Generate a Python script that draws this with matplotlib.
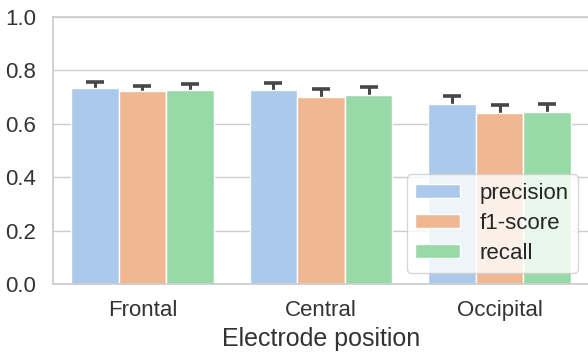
import numpy as np
import matplotlib
matplotlib.use("Agg")
import matplotlib.pyplot as plt
import seaborn as sns

# 数据
positions = ["Frontal", "Central", "Occipital"]
metrics = ["precision", "f1-score", "recall"]
precision = [0.734, 0.725, 0.673]
f1_score = [0.722, 0.699, 0.639]
recall = [0.728, 0.708, 0.646]
precision_err = [0.024, 0.028, 0.030]
f1_err = [0.020, 0.030, 0.031]
recall_err = [0.022, 0.031, 0.030]

sns.set_theme(style="whitegrid")
plt.rcParams['font.family'] = ['Liberation Sans', 'DejaVu Sans']

fig = plt.figure(figsize=(5.88, 3.55), dpi=100)
ax = fig.add_axes([53 / 588, 71 / 355, 536 / 588, 267 / 355])

values = [precision, f1_score, recall]
errors = [precision_err, f1_err, recall_err]
colors = [sns.desaturate(c, 0.75) for c in sns.color_palette("pastel")[:3]]

x = np.arange(len(positions))
width = 0.8 / 3
for i, (name, vals, errs) in enumerate(zip(metrics, values, errors)):
    xs = x - 0.4 + width * (i + 0.5)
    ax.bar(xs, vals, width, color=colors[i], edgecolor="white",
           linewidth=1, label=name, zorder=2)
    # 误差线放在柱子后面，只露出上半部分
    _, caps, bars = ax.errorbar(xs, vals, yerr=errs, fmt="none",
                                ecolor="#474747", elinewidth=2.2, capsize=6.8,
                                capthick=2.6, zorder=1.5)
    for c in caps:
        c.set_solid_capstyle("round")

ax.set_xlim(-0.5, 2.5)
ax.set_ylim(0, 1.0)
ax.set_yticks([0, 0.2, 0.4, 0.6, 0.8, 1.0])
ax.set_xticks(x)
ax.set_xticklabels(positions)
ax.grid(False, axis="x")
ax.tick_params(axis="y", labelsize=16, colors="#333333", pad=6)
ax.tick_params(axis="x", labelsize=16, colors="#333333", pad=5.5)
ax.set_xlabel("Electrode position", fontsize=18, color="#333333", labelpad=4)
ax.legend(loc="lower right", fontsize=16, handlelength=2.0,
          handleheight=0.6, labelspacing=0.4, handletextpad=0.9)

fig.savefig("out.png", dpi=100)
